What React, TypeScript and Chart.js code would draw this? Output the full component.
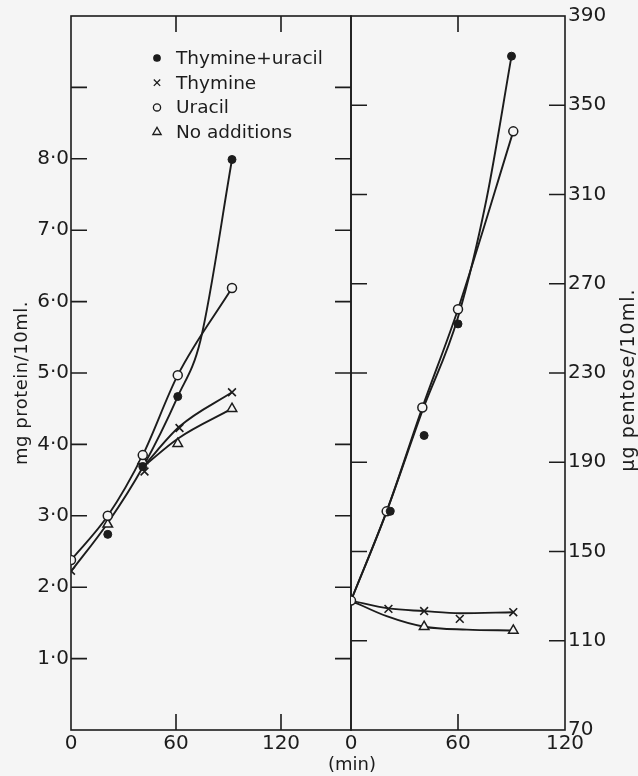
import React, { useEffect, useRef } from 'react';
import { Chart, registerables } from 'chart.js';
import { drawPoint } from 'chart.js/helpers';

Chart.register(...registerables);

// ---------- data: left panel (mg protein / 10 ml) ----------
const proteinTuTimes = [21, 41, 61, 92];
const proteinTuValues = [2.74, 3.69, 4.67, 7.99];
const proteinThymineTimes = [0, 42, 62, 92];
const proteinThymineValues = [2.23, 3.62, 4.23, 4.73];
const proteinUracilTimes = [0, 21, 41, 61, 92];
const proteinUracilValues = [2.38, 3.0, 3.85, 4.97, 6.19];
const proteinNoneTimes = [21, 41, 61, 92];
const proteinNoneValues = [2.88, 3.77, 4.01, 4.5];

// fitted curves (as drawn)
const proteinTuCurveTimes = [0, 21, 41, 61, 74, 92];
const proteinTuCurveValues = [2.22, 2.9, 3.68, 4.67, 5.46, 7.99];
const proteinUracilCurveTimes = [0, 21, 41, 61, 92];
const proteinUracilCurveValues = [2.38, 3.0, 3.85, 4.97, 6.19];
const proteinThymineCurveTimes = [41, 62, 92];
const proteinThymineCurveValues = [3.68, 4.25, 4.73];
const proteinNoneCurveTimes = [41, 61, 92];
const proteinNoneCurveValues = [3.68, 4.08, 4.5];

// ---------- data: right panel (µg pentose / 10 ml) ----------
const pentoseTuTimes = [22, 41, 60, 90];
const pentoseTuValues = [168, 202, 252, 372];
const pentoseThymineTimes = [21, 41, 61, 91];
const pentoseThymineValues = [124.3, 123.3, 119.8, 122.8];
const pentoseUracilTimes = [0, 20, 40, 60, 91];
const pentoseUracilValues = [128, 168, 214.5, 258.6, 338.3];
const pentoseNoneTimes = [0, 41, 91];
const pentoseNoneValues = [128, 116.3, 114.6];

const pentoseTuCurveTimes = [0, 20, 40, 60, 76, 90];
const pentoseTuCurveValues = [128, 168, 213, 255, 308, 372];
const pentoseUracilCurveTimes = [0, 20, 40, 60, 91];
const pentoseUracilCurveValues = [128, 168, 214.5, 258.6, 338.3];
const pentoseThymineCurveTimes = [0, 21, 41, 61, 91];
const pentoseThymineCurveValues = [128, 124.5, 123.3, 122.3, 122.8];
const pentoseNoneCurveTimes = [0, 20, 41, 65, 91];
const pentoseNoneCurveValues = [128, 121, 116.3, 115, 114.6];

// ---------- ticks / labels ----------
const timeTickLabels = [0, 60, 120];
const proteinTickLabels = [1, 2, 3, 4, 5, 6, 7, 8];
const proteinTickMarks = [1, 2, 3, 4, 5, 6, 7, 8, 9];
const pentoseTickLabels = [70, 110, 150, 190, 230, 270, 310, 350, 390];
const pentoseTickMarks = [110, 150, 190, 230, 270, 310, 350];
const leftTimeTickMarks = [60, 120];
const rightTimeTickMarks = [60];
const legendLabels = ['Thymine+uracil', 'Thymine', 'Uracil', 'No additions'];
const proteinTitle = 'mg protein/10ml.';
const pentoseTitle = 'µg pentose/10ml.';
const timeTitle = '(min)';

const BG = '#f5f5f5';
const INK = '#1c1c1c';
const FONT = "'DejaVu Sans', sans-serif";
const W = 638;
const H = 776;

const pts = (xs: number[], ys: number[]) => xs.map((x, i) => ({ x, y: ys[i] }));

const markerStyles = [
  { pointStyle: 'circle', radius: 4, bg: INK, border: INK, bw: 1 },
  { pointStyle: 'crossRot', radius: 5.5, bg: INK, border: INK, bw: 1.6 },
  { pointStyle: 'circle', radius: 4.5, bg: BG, border: INK, bw: 1.5 },
  { pointStyle: 'triangle', radius: 5.5, bg: BG, border: INK, bw: 1.5 },
];

function markerSet(xs: number[], ys: number[], k: number) {
  const s = markerStyles[k];
  return {
    data: pts(xs, ys),
    showLine: false,
    pointStyle: s.pointStyle,
    pointRadius: s.radius,
    pointBackgroundColor: s.bg,
    pointBorderColor: s.border,
    pointBorderWidth: s.bw,
    order: 0,
  };
}

function curveSet(xs: number[], ys: number[]) {
  return {
    data: pts(xs, ys),
    showLine: true,
    borderColor: INK,
    borderWidth: 1.9,
    pointRadius: 0,
    tension: 0.4,
    cubicInterpolationMode: 'monotone',
    fill: false,
    order: 1,
  };
}

function framePlugin(cfg: {
  leftMarks: number[];
  rightMarks: number[];
  topMarks: number[];
  bottomMarks: number[];
}) {
  return {
    id: 'frame',
    beforeDatasetsDraw(chart: any) {
      const { ctx, chartArea: a } = chart;
      const ys = chart.scales.y;
      const xs = chart.scales.x;
      const L = 16;
      ctx.save();
      ctx.strokeStyle = INK;
      ctx.lineWidth = 1.6;
      ctx.strokeRect(a.left, a.top, a.right - a.left, a.bottom - a.top);
      ctx.beginPath();
      cfg.leftMarks.forEach((v) => {
        const y = ys.getPixelForValue(v);
        ctx.moveTo(a.left, y);
        ctx.lineTo(a.left + L, y);
      });
      cfg.rightMarks.forEach((v) => {
        const y = ys.getPixelForValue(v);
        ctx.moveTo(a.right, y);
        ctx.lineTo(a.right - L, y);
      });
      cfg.topMarks.forEach((v) => {
        const x = xs.getPixelForValue(v);
        ctx.moveTo(x, a.top);
        ctx.lineTo(x, a.top + L);
      });
      cfg.bottomMarks.forEach((v) => {
        const x = xs.getPixelForValue(v);
        ctx.moveTo(x, a.bottom);
        ctx.lineTo(x, a.bottom - L);
      });
      ctx.stroke();
      ctx.restore();
    },
  };
}

function textPlugin(items: { text: string; x: number; y: number; rot: number; size: number; spacing?: string }[]) {
  return {
    id: 'texts',
    afterDraw(chart: any) {
      const ctx = chart.ctx;
      items.forEach((it) => {
        ctx.save();
        ctx.translate(it.x, it.y);
        ctx.rotate(it.rot);
        ctx.font = `${it.size}px ${FONT}`;
        if (it.spacing) (ctx as any).letterSpacing = it.spacing;
        ctx.fillStyle = INK;
        ctx.textAlign = 'center';
        ctx.textBaseline = 'middle';
        ctx.fillText(it.text, 0, 0);
        ctx.restore();
      });
    },
  };
}

const legendPlugin = {
  id: 'innerLegend',
  afterDraw(chart: any) {
    const ctx = chart.ctx;
    const mx = 157;
    const tx = 176;
    const y0 = 58;
    const dy = 24.7;
    const legendMarkers = [
      { pointStyle: 'circle', radius: 3.2, fill: true },
      { pointStyle: 'crossRot', radius: 4.5, fill: false },
      { pointStyle: 'circle', radius: 3.6, fill: false },
      { pointStyle: 'triangle', radius: 4.8, fill: false },
    ];
    legendLabels.forEach((label, i) => {
      const y = y0 + i * dy;
      const m = legendMarkers[i];
      ctx.save();
      ctx.strokeStyle = INK;
      ctx.fillStyle = m.fill ? INK : BG;
      ctx.lineWidth = 1.3;
      drawPoint(ctx, { pointStyle: m.pointStyle, radius: m.radius, rotation: 0, borderWidth: 1.3 } as any, mx, y);
      ctx.fillStyle = INK;
      ctx.font = `18.5px ${FONT}`;
      ctx.textAlign = 'left';
      ctx.textBaseline = 'alphabetic';
      ctx.fillText(label, tx, y + 6);
      ctx.restore();
    });
  },
};

const tickFont = { family: FONT, size: 20 };

export default function App() {
  const leftRef = useRef<HTMLCanvasElement>(null);
  const rightRef = useRef<HTMLCanvasElement>(null);

  useEffect(() => {
    document.body.style.margin = '0';
    const left = new Chart(leftRef.current as HTMLCanvasElement, {
      type: 'line',
      data: {
        datasets: [
          markerSet(proteinTuTimes, proteinTuValues, 0),
          markerSet(proteinThymineTimes, proteinThymineValues, 1),
          markerSet(proteinUracilTimes, proteinUracilValues, 2),
          markerSet(proteinNoneTimes, proteinNoneValues, 3),
          curveSet(proteinTuCurveTimes, proteinTuCurveValues),
          curveSet(proteinUracilCurveTimes, proteinUracilCurveValues),
          curveSet(proteinThymineCurveTimes, proteinThymineCurveValues),
          curveSet(proteinNoneCurveTimes, proteinNoneCurveValues),
        ] as any,
      },
      options: {
        animation: false,
        responsive: false,
        devicePixelRatio: 1,
        layout: { padding: { top: 16, right: W - 351, left: 0, bottom: 0 } },
        plugins: { legend: { display: false }, tooltip: { enabled: false } },
        scales: {
          x: {
            type: 'linear',
            min: 0,
            max: 160,
            position: 'bottom',
            grid: { display: false, drawTicks: false },
            border: { display: false },
            ticks: { font: tickFont, color: INK, padding: 2, maxRotation: 0, autoSkip: false },
            afterBuildTicks: (s: any) => {
              s.ticks = timeTickLabels.map((v) => ({ value: v }));
            },
            afterFit: (s: any) => {
              s.height = H - 730;
            },
          },
          y: {
            type: 'linear',
            min: 0,
            max: 10,
            position: 'left',
            grid: { display: false, drawTicks: false },
            border: { display: false },
            ticks: {
              font: tickFont,
              color: INK,
              padding: 2,
              autoSkip: false,
              callback: (v: any) => Number(v).toFixed(1).replace('.', '·'),
            },
            afterBuildTicks: (s: any) => {
              s.ticks = proteinTickLabels.map((v) => ({ value: v }));
            },
            afterFit: (s: any) => {
              s.width = 71;
            },
          },
        },
      } as any,
      plugins: [
        framePlugin({
          leftMarks: proteinTickMarks,
          rightMarks: proteinTickMarks,
          topMarks: leftTimeTickMarks,
          bottomMarks: leftTimeTickMarks,
        }),
        legendPlugin,
        textPlugin([
          { text: proteinTitle, x: 22, y: 383, rot: -Math.PI / 2, size: 18, spacing: '0.5px' },
          { text: timeTitle, x: 352, y: 765, rot: 0, size: 18 },
        ]),
      ] as any,
    });

    const right = new Chart(rightRef.current as HTMLCanvasElement, {
      type: 'line',
      data: {
        datasets: [
          markerSet(pentoseTuTimes, pentoseTuValues, 0),
          markerSet(pentoseThymineTimes, pentoseThymineValues, 1),
          markerSet(pentoseUracilTimes, pentoseUracilValues, 2),
          markerSet(pentoseNoneTimes, pentoseNoneValues, 3),
          curveSet(pentoseTuCurveTimes, pentoseTuCurveValues),
          curveSet(pentoseUracilCurveTimes, pentoseUracilCurveValues),
          curveSet(pentoseThymineCurveTimes, pentoseThymineCurveValues),
          curveSet(pentoseNoneCurveTimes, pentoseNoneCurveValues),
        ] as any,
      },
      options: {
        animation: false,
        responsive: false,
        devicePixelRatio: 1,
        layout: { padding: { top: 16, right: 0, left: 351, bottom: 0 } },
        plugins: { legend: { display: false }, tooltip: { enabled: false } },
        scales: {
          x: {
            type: 'linear',
            min: 0,
            max: 120,
            position: 'bottom',
            grid: { display: false, drawTicks: false },
            border: { display: false },
            ticks: { font: tickFont, color: INK, padding: 2, maxRotation: 0, autoSkip: false },
            afterBuildTicks: (s: any) => {
              s.ticks = timeTickLabels.map((v) => ({ value: v }));
            },
            afterFit: (s: any) => {
              s.height = H - 730;
            },
          },
          y: {
            type: 'linear',
            min: 70,
            max: 390,
            position: 'right',
            grid: { display: false, drawTicks: false },
            border: { display: false },
            ticks: { font: tickFont, color: INK, padding: 3, autoSkip: false },
            afterBuildTicks: (s: any) => {
              s.ticks = pentoseTickLabels.map((v) => ({ value: v }));
            },
            afterFit: (s: any) => {
              s.width = W - 565;
            },
          },
        },
      } as any,
      plugins: [
        framePlugin({
          leftMarks: pentoseTickMarks,
          rightMarks: pentoseTickMarks,
          topMarks: rightTimeTickMarks,
          bottomMarks: rightTimeTickMarks,
        }),
        textPlugin([{ text: pentoseTitle, x: 629, y: 380, rot: -Math.PI / 2, size: 19, spacing: '1px' }]),
      ] as any,
    });

    return () => {
      left.destroy();
      right.destroy();
    };
  }, []);

  const cs: React.CSSProperties = { position: 'absolute', left: 0, top: 0, width: W, height: H };
  return (
    <div style={{ position: 'absolute', left: 0, top: 0, width: W, height: H, background: BG, overflow: 'hidden' }}>
      <canvas ref={leftRef} width={W} height={H} style={cs} />
      <canvas ref={rightRef} width={W} height={H} style={cs} />
    </div>
  );
}
